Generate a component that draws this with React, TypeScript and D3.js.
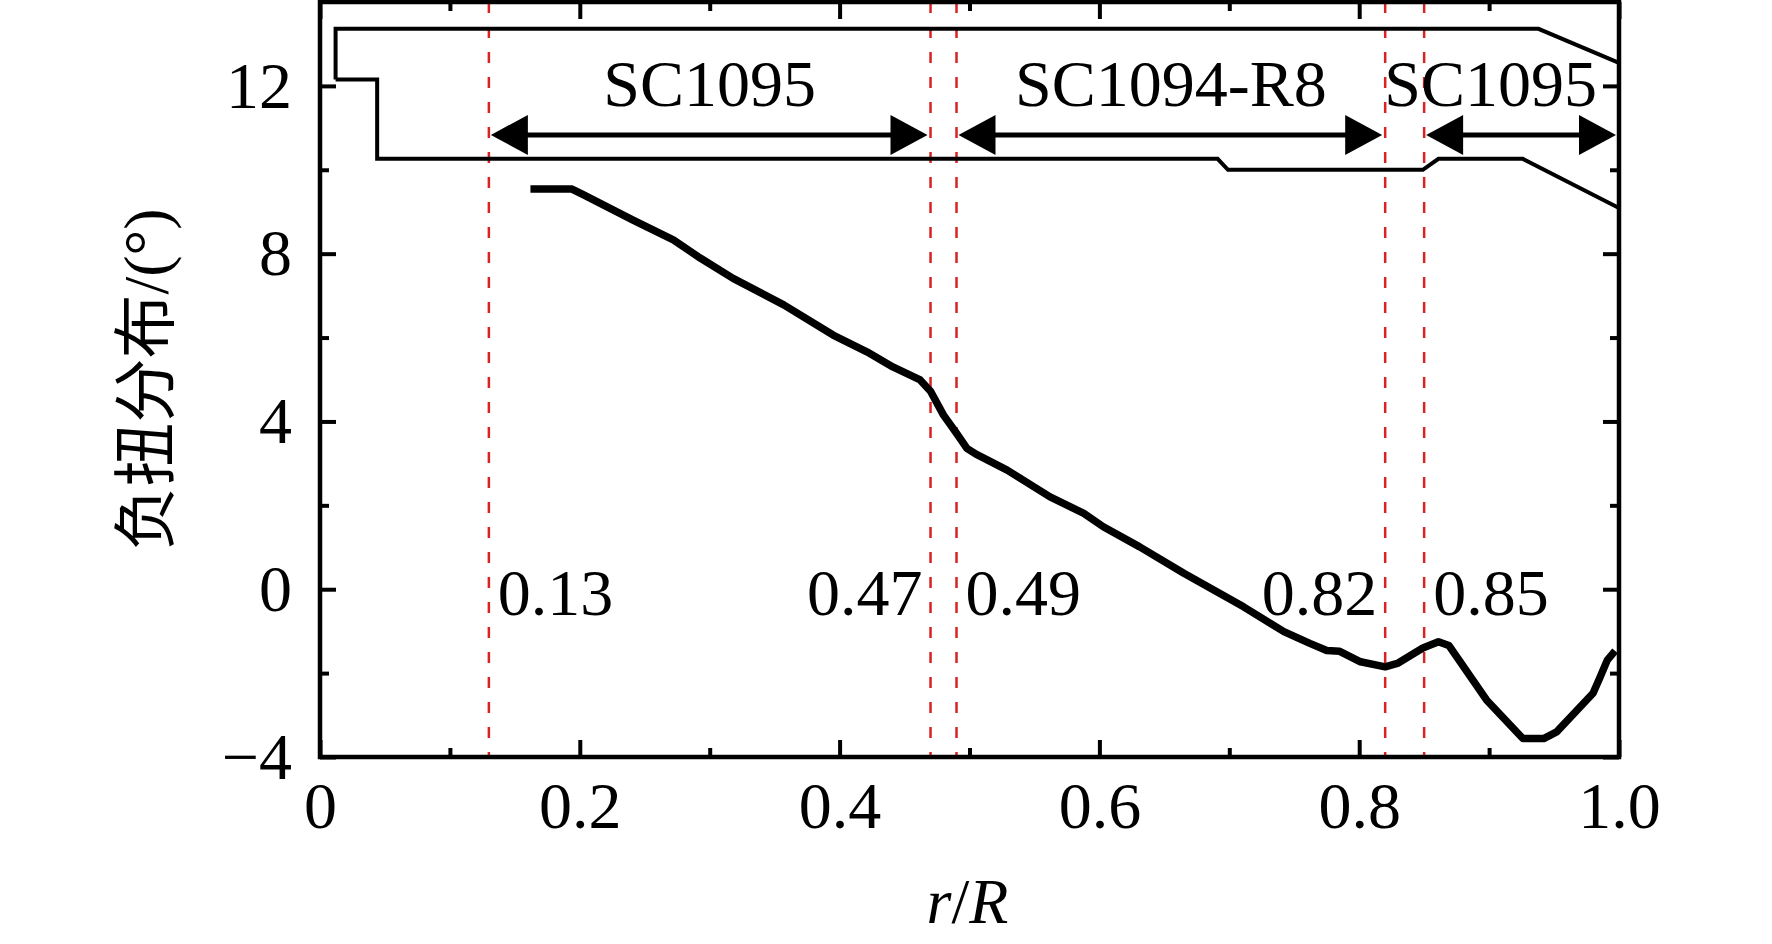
import * as d3 from "d3";
import { useEffect, useRef } from "react";

// axis ticks
const xMajorTicks = [0, 0.2, 0.4, 0.6, 0.8, 1.0];
const xMinorTicks = [0.1, 0.3, 0.5, 0.7, 0.9];
const yMajorTicks = [-4, 0, 4, 8, 12];
const yMinorTicks = [-2, 2, 6, 10];

// airfoil section boundaries (r/R)
const boundaries = [0.13, 0.47, 0.49, 0.82, 0.85, 1.0];
const boundaryLabels = ["0.13", "0.47", "0.49", "0.82", "0.85", ""];

// airfoil segments
const segNames = ["SC1095", "SC1094-R8", "SC1095"];
const segFrom = [0.13, 0.49, 0.85];
const segTo = [0.47, 0.82, 1.0];

// blade planform outline sketch
const upperR = [0.012, 0.012, 0.938, 1.0];
const upperY = [12.15, 13.36, 13.36, 12.55];
const lowerR = [0.012, 0.044, 0.044, 0.691, 0.699, 0.849, 0.861, 0.926, 1.0];
const lowerY = [12.15, 12.15, 10.26, 10.26, 10.0, 10.0, 10.26, 10.26, 9.09];

// twist distribution
const twistR = [
  0.162, 0.194, 0.203, 0.241, 0.272, 0.293, 0.318, 0.357, 0.395, 0.421, 0.441,
  0.462, 0.47, 0.48, 0.49, 0.498, 0.505, 0.529, 0.562, 0.588, 0.603, 0.631,
  0.665, 0.711, 0.742, 0.762, 0.775, 0.785, 0.801, 0.82, 0.83, 0.849, 0.861,
  0.869, 0.898, 0.926, 0.942, 0.952, 0.98, 0.985, 0.991, 0.997,
];
const twistDeg = [
  9.54, 9.54, 9.4, 8.8, 8.33, 7.89, 7.41, 6.78, 6.06, 5.66, 5.3, 4.99, 4.72,
  4.15, 3.72, 3.36, 3.22, 2.84, 2.2, 1.81, 1.49, 1.01, 0.38, -0.42, -1.01,
  -1.29, -1.46, -1.48, -1.73, -1.85, -1.76, -1.4, -1.25, -1.34, -2.64, -3.56,
  -3.56, -3.4, -2.48, -2.13, -1.69, -1.47,
];

const SERIF = "'Liberation Serif', 'Times New Roman', 'Noto Sans CJK SC', serif";

const App = () => {
  const ref = useRef<SVGSVGElement>(null);

  useEffect(() => {
    const W = 1772,
      H = 944;
    const margin = { top: 2, right: 153, bottom: 187, left: 320 };
    const x = d3.scaleLinear().domain([0, 1]).range([margin.left, W - margin.right]);
    const y = d3.scaleLinear().domain([-4, 14]).range([H - margin.bottom, margin.top]);

    const svg = d3.select(ref.current);
    svg.selectAll("*").remove();

    const path = (rs: number[], ys: number[]) =>
      d3
        .line<number>()
        .x((d) => x(d))
        .y((_, i) => y(ys[i]))(rs);

    // red dashed boundaries
    svg
      .append("g")
      .selectAll("line")
      .data(boundaries)
      .join("line")
      .attr("x1", (d) => x(d))
      .attr("x2", (d) => x(d))
      .attr("y1", y(14))
      .attr("y2", y(-4))
      .attr("stroke", "#d92323")
      .attr("stroke-width", 2.5)
      .attr("stroke-dasharray", "11 14");

    // boundary value labels
    svg
      .append("g")
      .selectAll("text")
      .data(boundaries.slice(0, 5))
      .join("text")
      .attr("x", (d, i) => (i % 2 === 0 ? x(d) + 9 : x(d) - 8))
      .attr("y", y(-0.62))
      .attr("text-anchor", (d, i) => (i % 2 === 0 ? "start" : "end"))
      .attr("font-family", SERIF)
      .attr("font-size", 66)
      .text((d, i) => boundaryLabels[i]);

    // blade outline
    svg
      .append("path")
      .attr("d", path(upperR, upperY))
      .attr("fill", "none")
      .attr("stroke", "#000")
      .attr("stroke-width", 4);
    svg
      .append("path")
      .attr("d", path(lowerR, lowerY))
      .attr("fill", "none")
      .attr("stroke", "#000")
      .attr("stroke-width", 4);

    // segment arrows and names
    const arrowY = y(10.83);
    const headL = 37,
      headH = 20;
    segNames.forEach((name, i) => {
      const x0 = x(segFrom[i]) + 2;
      const x1 = x(segTo[i]) - 3;
      const g = svg.append("g");
      g.append("line")
        .attr("x1", x0 + headL - 2)
        .attr("x2", x1 - headL + 2)
        .attr("y1", arrowY)
        .attr("y2", arrowY)
        .attr("stroke", "#000")
        .attr("stroke-width", 5);
      g.append("path")
        .attr(
          "d",
          `M${x0},${arrowY}L${x0 + headL},${arrowY - headH}L${x0 + headL},${arrowY + headH}Z`
        )
        .attr("fill", "#000");
      g.append("path")
        .attr(
          "d",
          `M${x1},${arrowY}L${x1 - headL},${arrowY - headH}L${x1 - headL},${arrowY + headH}Z`
        )
        .attr("fill", "#000");
      const mid = (x(segFrom[i]) + x(segTo[i])) / 2;
      const t = g
        .append("text")
        .attr("x", mid)
        .attr("y", y(11.52))
        .attr("text-anchor", "middle")
        .attr("font-family", SERIF)
        .attr("font-size", 66)
        .text(name);
      const tw = (t.node() as SVGTextElement).getComputedTextLength();
      if (mid + tw / 2 > x(1) - 22) {
        t.attr("text-anchor", "end").attr("x", x(1) - 22);
      }
    });

    // twist curve
    svg
      .append("path")
      .attr("d", path(twistR, twistDeg))
      .attr("fill", "none")
      .attr("stroke", "#000")
      .attr("stroke-width", 7.5)
      .attr("stroke-linejoin", "round");

    // axes
    const styleAxis = (g: any, size: number) => {
      g.select(".domain").remove();
      g.selectAll(".tick line").attr("stroke-width", 4);
      g.attr("font-family", SERIF).attr("font-size", size);
    };
    const bottom = H - margin.bottom;
    svg
      .append("g")
      .attr("transform", `translate(0,${bottom})`)
      .call(
        d3
          .axisBottom(x)
          .tickValues(xMajorTicks)
          .tickSizeInner(-17)
          .tickSizeOuter(0)
          .tickPadding(24)
          .tickFormat((d: any) => (d === 0 ? "0" : d3.format(".1f")(d)))
      )
      .call((g) => styleAxis(g, 66));
    svg
      .append("g")
      .attr("transform", `translate(0,${bottom})`)
      .call(d3.axisBottom(x).tickValues(xMinorTicks).tickSizeInner(-9).tickSizeOuter(0).tickFormat(() => ""))
      .call((g) => styleAxis(g, 10));
    svg
      .append("g")
      .attr("transform", `translate(0,${margin.top})`)
      .call(d3.axisTop(x).tickValues(xMajorTicks).tickSizeInner(-17).tickSizeOuter(0).tickFormat(() => ""))
      .call((g) => styleAxis(g, 10));
    svg
      .append("g")
      .attr("transform", `translate(0,${margin.top})`)
      .call(d3.axisTop(x).tickValues(xMinorTicks).tickSizeInner(-9).tickSizeOuter(0).tickFormat(() => ""))
      .call((g) => styleAxis(g, 10));
    svg
      .append("g")
      .attr("transform", `translate(${margin.left},0)`)
      .call(
        d3
          .axisLeft(y)
          .tickValues(yMajorTicks)
          .tickSizeInner(-16)
          .tickSizeOuter(0)
          .tickPadding(28)
          .tickFormat(d3.format("d"))
      )
      .call((g) => styleAxis(g, 66));
    svg
      .append("g")
      .attr("transform", `translate(${margin.left},0)`)
      .call(d3.axisLeft(y).tickValues(yMinorTicks).tickSizeInner(-9).tickSizeOuter(0).tickFormat(() => ""))
      .call((g) => styleAxis(g, 10));
    svg
      .append("g")
      .attr("transform", `translate(${W - margin.right},0)`)
      .call(d3.axisRight(y).tickValues(yMajorTicks).tickSizeInner(-16).tickSizeOuter(0).tickFormat(() => ""))
      .call((g) => styleAxis(g, 10));
    svg
      .append("g")
      .attr("transform", `translate(${W - margin.right},0)`)
      .call(d3.axisRight(y).tickValues(yMinorTicks).tickSizeInner(-9).tickSizeOuter(0).tickFormat(() => ""))
      .call((g) => styleAxis(g, 10));

    // frame
    svg
      .append("rect")
      .attr("x", x(0))
      .attr("y", y(14))
      .attr("width", x(1) - x(0))
      .attr("height", y(-4) - y(14))
      .attr("fill", "none")
      .attr("stroke", "#000")
      .attr("stroke-width", 4.5);

    // axis titles
    svg
      .append("text")
      .attr("transform", `translate(146,${(y(14) + y(-4)) / 2}) rotate(-90)`)
      .attr("text-anchor", "middle")
      .attr("dominant-baseline", "central")
      .attr("font-family", SERIF)
      .attr("font-size", 64)
      .text("负扭分布/(°)");
    const xt = svg
      .append("text")
      .attr("x", (x(0) + x(1)) / 2 - 2)
      .attr("y", 923)
      .attr("text-anchor", "middle")
      .attr("font-family", SERIF)
      .attr("font-size", 64)
      .attr("font-style", "italic");
    xt.append("tspan").text("r");
    xt.append("tspan").attr("font-style", "normal").text("/");
    xt.append("tspan").text("R");
  }, []);

  return (
    <svg
      ref={ref}
      width={1772}
      height={944}
      style={{ position: "absolute", left: 0, top: 0, background: "#fff" }}
    />
  );
};

export default App;
